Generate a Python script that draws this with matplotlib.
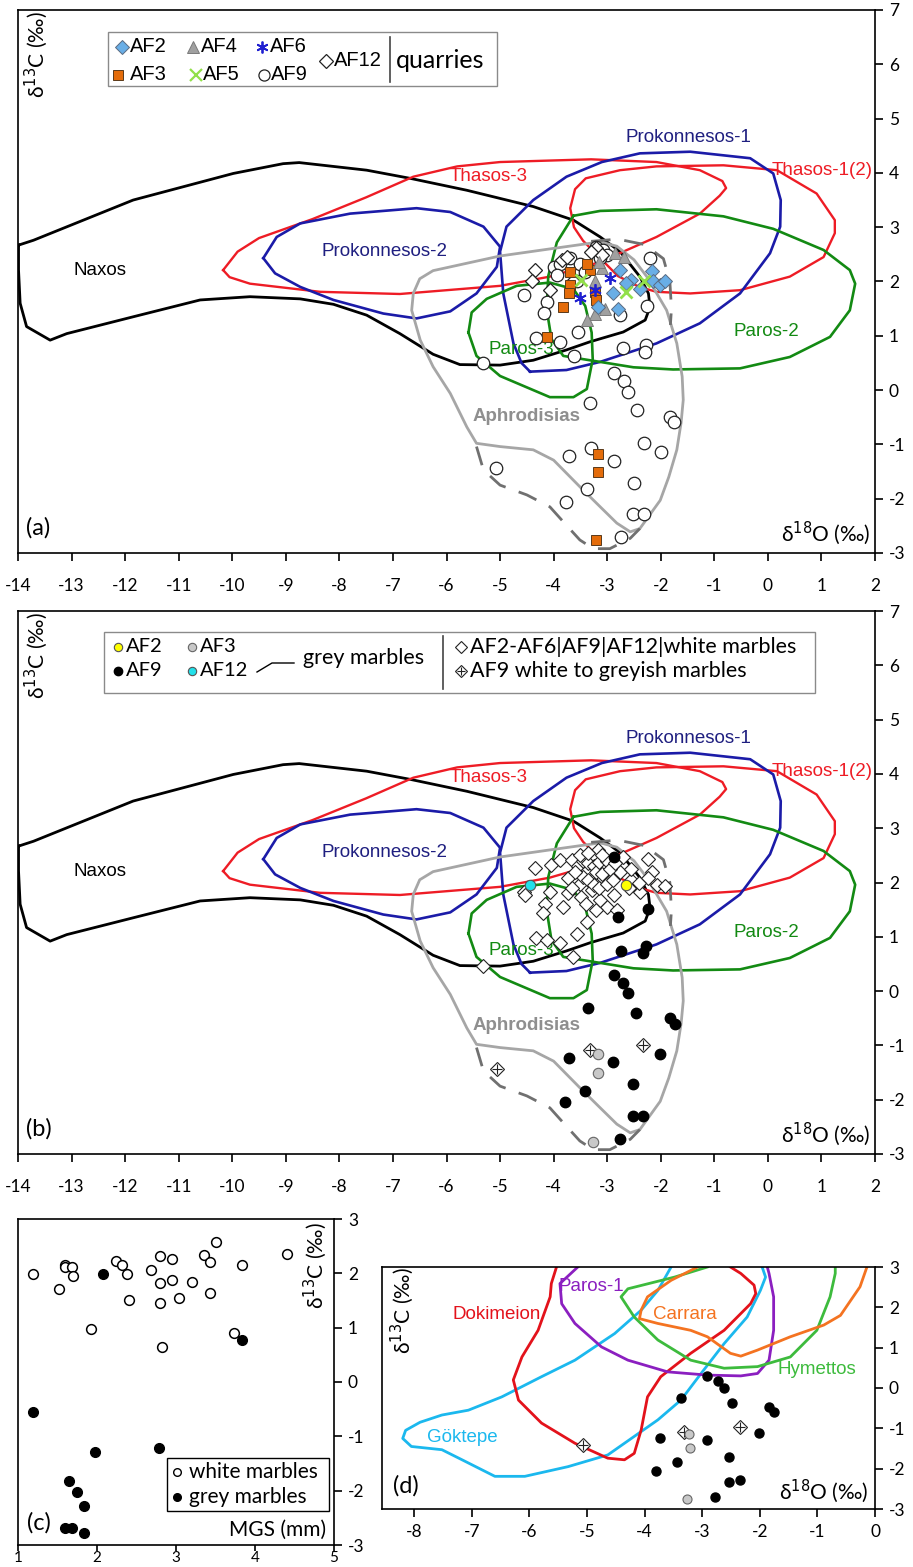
import matplotlib
matplotlib.use("Agg")
import matplotlib.pyplot as plt
from matplotlib.lines import Line2D
from matplotlib.patches import Rectangle

plt.rcParams['font.family'] = ['Lato', 'DejaVu Sans']
plt.rcParams['axes.unicode_minus'] = False
plt.rcParams['mathtext.fontset'] = 'dejavusans'

W, H = 913, 1567

# ---------------- quarry fields (d18O, d13C) ----------------
naxos = [(-13.99, 2.67), (-13.71, 2.76), (-11.85, 3.50), (-9.98, 3.99), (-9.05, 4.17),
         (-8.75, 4.19), (-7.49, 4.05), (-6.68, 3.90), (-5.62, 3.68), (-4.38, 3.38),
         (-3.63, 3.13), (-3.13, 2.82), (-2.76, 2.55), (-2.39, 2.09), (-2.23, 1.78),
         (-2.20, 1.53), (-2.29, 1.29), (-2.70, 1.07), (-3.32, 0.89), (-3.76, 0.74),
         (-4.38, 0.55), (-5.00, 0.46), (-5.75, 0.47), (-6.25, 0.66), (-6.87, 1.04),
         (-7.49, 1.38), (-8.11, 1.58), (-8.73, 1.68), (-9.67, 1.72), (-10.60, 1.66),
         (-11.85, 1.35), (-13.09, 1.04), (-13.40, 0.92), (-13.84, 1.17), (-13.96, 1.60),
         (-13.99, 2.21)]
thasos3 = [(-10.17, 2.21), (-9.90, 2.55), (-9.50, 2.80), (-8.50, 3.15), (-7.50, 3.55),
           (-6.62, 3.93), (-5.80, 4.12), (-5.00, 4.20), (-3.30, 4.25), (-2.08, 4.20),
           (-1.27, 4.05), (-0.85, 3.85), (-0.78, 3.72), (-0.90, 3.58), (-1.27, 3.25),
           (-2.08, 2.82), (-2.70, 2.55), (-3.20, 2.34), (-4.07, 2.09), (-5.00, 1.92),
           (-6.87, 1.77), (-8.36, 1.81), (-9.67, 1.96), (-10.05, 2.08)]
thasos1 = [(-3.20, 2.50), (-3.45, 2.75), (-3.62, 3.00), (-3.69, 3.35), (-3.60, 3.70),
           (-3.40, 3.90), (-2.76, 4.05), (-2.08, 4.12), (-0.83, 4.14), (0.17, 4.05),
           (0.91, 3.62), (1.25, 3.13), (1.25, 2.89), (1.04, 2.45), (0.41, 2.09),
           (-0.52, 1.84), (-1.45, 1.78), (-2.08, 1.81), (-2.40, 1.90), (-2.80, 2.10),
           (-3.00, 2.30)]
prok1 = [(-4.44, 0.34), (-3.76, 0.37), (-3.13, 0.52), (-2.08, 0.86), (-1.27, 1.23),
         (-0.52, 1.78), (0.04, 2.52), (0.23, 3.01), (0.24, 3.50), (0.10, 3.99),
         (-0.33, 4.27), (-1.45, 4.39), (-2.39, 4.36), (-3.10, 4.20), (-3.76, 3.93),
         (-4.38, 3.50), (-4.88, 3.01), (-5.00, 2.55), (-4.94, 1.78), (-4.75, 0.86),
         (-4.60, 0.50)]
prok2 = [(-9.42, 2.43), (-9.20, 2.15), (-8.73, 1.90), (-8.11, 1.66), (-7.18, 1.41),
         (-6.56, 1.32), (-5.93, 1.45), (-5.44, 1.78), (-5.06, 2.27), (-5.00, 2.64),
         (-5.31, 3.01), (-5.93, 3.28), (-6.56, 3.35), (-7.80, 3.25), (-8.73, 3.07),
         (-9.17, 2.82)]
paros2 = [(-3.63, 3.21), (-3.13, 3.30), (-2.08, 3.33), (-0.83, 3.20), (0.10, 2.97),
          (1.04, 2.58), (1.53, 2.21), (1.63, 1.96), (1.53, 1.47), (1.16, 0.98),
          (0.41, 0.61), (-0.52, 0.40), (-1.77, 0.38), (-2.51, 0.42), (-3.45, 0.57),
          (-3.82, 0.63), (-4.04, 0.94), (-4.13, 1.49), (-4.10, 2.10), (-3.94, 2.72)]
paros3 = [(-5.59, 1.06), (-5.53, 1.43), (-5.25, 1.68), (-4.69, 1.92), (-4.07, 1.98),
          (-3.63, 1.86), (-3.41, 1.55), (-3.29, 1.06), (-3.27, 0.57), (-3.38, 0.02),
          (-3.63, -0.13), (-4.07, -0.13), (-5.00, 0.26), (-5.44, 0.63)]
aphro = [(-3.13, 2.73), (-2.82, 2.65), (-2.50, 2.40), (-2.26, 2.09), (-1.89, 1.47),
         (-1.70, 0.86), (-1.60, 0.25), (-1.58, -0.18), (-1.62, -0.60), (-1.70, -1.10),
         (-1.85, -1.60), (-2.01, -2.03), (-2.39, -2.55), (-2.57, -2.61), (-2.82, -2.45),
         (-3.13, -2.15), (-3.51, -1.78), (-4.00, -1.29), (-4.38, -1.10), (-5.00, -1.04),
         (-5.44, -0.98), (-5.62, -0.68), (-5.93, -0.06), (-6.25, 0.43), (-6.49, 0.92),
         (-6.65, 1.47), (-6.62, 1.78), (-6.50, 2.05), (-6.25, 2.20), (-5.00, 2.47),
         (-4.07, 2.60)]
aphro_dash_top = [(-3.30, 2.74), (-2.80, 2.78), (-2.30, 2.68), (-1.95, 2.42), (-1.83, 2.00),
                  (-1.80, 1.50), (-1.82, 1.20)]
aphro_dash_bot = [(-5.44, -1.04), (-5.31, -1.47), (-5.00, -1.75), (-4.50, -1.93), (-4.07, -2.15),
                  (-3.76, -2.49), (-3.51, -2.76), (-3.26, -2.92), (-2.95, -2.92), (-2.57, -2.73),
                  (-2.39, -2.55)]

# fields of panel (d), open at the top
dokimeion = [(-5.53, 3.0), (-5.62, 2.59), (-5.64, 2.26), (-5.85, 1.43), (-6.13, 0.77),
             (-6.28, 0.20), (-6.19, -0.30), (-5.79, -0.87), (-5.21, -1.37), (-4.64, -1.74),
             (-4.35, -1.78), (-4.18, -1.62), (-4.06, -1.04), (-3.95, -0.22), (-3.72, 0.28),
             (-3.20, 0.86), (-2.62, 1.43), (-2.16, 2.09), (-2.07, 2.34), (-2.10, 2.55),
             (-2.33, 2.84), (-2.51, 3.0)]
paros1 = [(-5.16, 3.0), (-5.47, 2.59), (-5.44, 2.09), (-5.21, 1.60), (-4.75, 1.02),
          (-4.29, 0.69), (-3.60, 0.40), (-2.91, 0.32), (-2.33, 0.30), (-2.04, 0.36),
          (-1.84, 0.69), (-1.76, 1.43), (-1.76, 2.26), (-1.84, 2.84), (-1.87, 3.0)]
carrara = [(-3.08, 3.0), (-3.54, 2.67), (-3.95, 2.26), (-4.06, 1.93), (-4.09, 1.72),
           (-3.77, 1.60), (-3.20, 1.43), (-2.91, 1.27), (-2.51, 0.86), (-2.33, 0.79),
           (-2.04, 0.94), (-1.47, 1.27), (-0.89, 1.56), (-0.60, 1.80), (-0.26, 2.51),
           (-0.14, 3.0)]
hymettos = [(-2.91, 3.0), (-3.48, 2.75), (-4.29, 2.46), (-4.41, 2.26), (-4.18, 1.76),
            (-3.77, 1.19), (-3.20, 0.69), (-2.62, 0.49), (-2.04, 0.53), (-1.47, 0.77),
            (-1.01, 1.43), (-0.78, 2.26), (-0.69, 2.84), (-0.69, 3.0)]
goktepe = [(-3.54, 3.0), (-3.77, 2.42), (-4.06, 1.93), (-4.52, 1.35), (-5.21, 0.69),
           (-5.79, 0.28), (-6.48, -0.22), (-7.06, -0.55), (-7.52, -0.67), (-7.90, -0.85),
           (-8.15, -1.05), (-8.20, -1.25), (-8.05, -1.45), (-7.52, -1.53), (-7.17, -1.78),
           (-6.60, -2.19), (-6.08, -2.19), (-5.33, -1.95), (-4.64, -1.66), (-4.18, -1.20),
           (-3.77, -0.79), (-3.37, -0.30), (-3.02, 0.36), (-2.62, 1.10), (-2.22, 1.76),
           (-1.99, 2.42), (-1.90, 2.75), (-1.96, 3.0)]

# ---------------- samples, panel (a) ----------------
af2_x = [-2.76, -2.56, -2.65, -2.89, -3.17, -2.80, -2.16, -2.39, -2.14, -2.01, -1.92]
af2_y = [2.21, 2.03, 1.97, 1.78, 1.53, 1.50, 2.19, 1.87, 2.00, 1.93, 2.00]
af3_x = [-3.69, -3.70, -3.72, -3.83, -4.13, -3.32, -3.38, -3.23, -3.20, -3.17, -3.17, -3.21]
af3_y = [2.18, 1.93, 1.78, 1.53, 0.97, 2.21, 2.32, 1.81, 1.66, -1.17, -1.50, -2.76]
af4_x = [-2.85, -2.69, -3.10, -3.23, -3.04, -3.23, -3.37, -3.15]
af4_y = [2.52, 2.45, 2.24, 2.00, 1.50, 1.41, 1.29, 2.35]
af5_x = [-3.48, -2.64, -2.32]
af5_y = [2.03, 1.80, 2.00]
af6_x = [-2.95, -3.51, -3.22]
af6_y = [2.06, 1.70, 1.84]
af9_x = [-2.20, -4.55, -4.13, -4.18, -2.25, -2.77, -4.32, -3.88, -3.55, -3.62, -5.31,
         -2.71, -2.27, -2.29, -2.87, -2.69, -2.61, -3.32, -2.44, -1.83, -1.75, -2.31,
         -2.00, -3.31, -3.71, -2.87, -5.08, -2.50, -3.38, -3.76, -2.51, -2.31, -2.75,
         -4.00, -3.88, -3.94, -3.69, -3.51, -3.20, -3.07, -3.01, -3.13, -3.41, -3.57]
af9_y = [2.43, 1.76, 1.63, 1.42, 1.55, 1.38, 0.96, 0.89, 1.07, 0.63, 0.49,
         0.77, 0.83, 0.71, 0.31, 0.17, -0.03, -0.23, -0.37, -0.49, -0.58, -0.97,
         -1.14, -1.07, -1.22, -1.30, -1.44, -1.72, -1.83, -2.06, -2.29, -2.28, -2.71,
         2.27, 2.33, 2.12, 2.43, 2.33, 2.64, 2.58, 2.49, 2.43, 2.18, 2.00]
af12_x = [-4.35, -4.41, -4.07, -3.85, -3.63, -3.20, -3.10, -3.30, -3.75]
af12_y = [2.21, 2.00, 1.84, 2.39, 2.00, 2.61, 2.49, 2.55, 2.45]

# ---------------- samples, panel (b) ----------------
white_x = [-4.35, -4.55, -4.53, -4.07, -4.16, -4.19, -3.83, -4.32, -4.13, -3.89, -3.56, -3.63,
           -5.31, -4.04, -3.88, -3.66, -3.17, -3.29, -3.05, -3.73, -3.51, -3.73, -3.48, -3.29,
           -3.07, -2.88, -2.76, -2.70, -2.23, -2.16, -2.23, -2.07, -1.92, -2.39, -3.01, -3.20,
           -2.82, -3.38, -3.13, -3.55, -3.45, -3.40, -3.35, -3.25, -3.20, -3.15, -3.10, -3.00,
           -3.45, -3.60, -3.35, -3.25, -3.15, -3.00, -2.95, -2.85, -2.90, -3.50, -3.35, -3.10,
           -2.55, -2.60, -3.65, -3.40, -2.55, -2.40]
white_y = [2.26, 1.83, 1.77, 1.83, 1.61, 1.44, 1.55, 0.97, 0.94, 0.89, 1.06, 0.62,
           0.46, 2.32, 2.41, 2.41, 2.60, 2.47, 2.26, 2.08, 1.98, 1.80, 1.74, 1.86,
           2.08, 1.77, 2.20, 2.47, 2.44, 2.20, 2.08, 1.95, 1.93, 1.83, 1.55, 1.49,
           1.50, 1.28, 1.68, 2.30, 2.40, 2.20, 2.35, 2.30, 2.20, 2.38, 2.15, 2.40,
           2.10, 2.20, 2.05, 1.95, 1.90, 1.98, 2.25, 2.35, 2.05, 2.50, 2.55, 2.50,
           2.05, 1.90, 1.90, 1.60, 2.25, 2.00]
greyish_x = [-5.06, -3.32, -2.34]
greyish_y = [-1.44, -1.09, -0.99]
g9_x = [-2.87, -2.23, -2.79, -2.75, -2.34, -2.27, -2.88, -2.71, -2.61, -3.35, -2.46,
        -1.83, -1.73, -2.01, -3.72, -2.89, -2.52, -3.41, -3.79, -2.52, -2.34, -2.76]
g9_y = [2.47, 1.52, 1.37, 0.74, 0.71, 0.83, 0.29, 0.15, -0.03, -0.31, -0.41,
        -0.50, -0.61, -1.15, -1.24, -1.31, -1.71, -1.84, -2.05, -2.30, -2.30, -2.73]
g3_x = [-3.17, -3.17, -3.26]
g3_y = [-1.16, -1.50, -2.78]
g2_x, g2_y = [-2.64], [1.95]
g12_x, g12_y = [-4.45], [1.95]

# ---------------- panel (c): MGS vs d13C ----------------
mgs_white = [1.19, 1.52, 1.59, 1.60, 1.68, 1.70, 1.92, 2.24, 2.32, 2.38, 2.40, 2.68, 2.80,
             2.80, 2.80, 2.82, 2.95, 2.95, 3.04, 3.20, 3.36, 3.43, 3.50, 3.43, 3.74, 3.84, 4.40]
c13_white = [1.99, 1.72, 2.16, 2.12, 2.12, 1.96, 0.97, 2.22, 2.15, 1.99, 1.51, 2.07, 2.32,
             1.82, 1.46, 0.64, 2.26, 1.88, 1.54, 1.84, 2.33, 2.21, 2.58, 1.63, 0.91, 2.16, 2.36]
mgs_grey = [2.08, 3.83, 1.19, 1.98, 2.78, 1.64, 1.75, 1.84, 1.60, 1.68, 1.84]
c13_grey = [1.99, 0.78, -0.56, -1.29, -1.21, -1.82, -2.03, -2.29, -2.69, -2.68, -2.77]

# ---------------- panel (d) ----------------
d_black_x = [-2.91, -2.72, -2.63, -2.48, -3.37, -1.84, -1.76, -2.02, -3.74, -2.91,
             -2.53, -3.43, -3.80, -2.53, -2.35, -2.78]
d_black_y = [0.30, 0.18, -0.01, -0.38, -0.26, -0.46, -0.59, -1.12, -1.23, -1.30,
             -1.72, -1.84, -2.05, -2.32, -2.29, -2.71]
d_grey_x = [-3.23, -3.21, -3.27]
d_grey_y = [-1.14, -1.48, -2.75]
d_cross_x = [-5.07, -3.31, -2.35]
d_cross_y = [-1.41, -1.08, -0.97]

LAB = 'Liberation Sans'
RED, BLUE, GREEN, GREY = '#ee1c25', '#1b1ba8', '#138a13', '#a6a6a6'


def fx(px):
    return px / W


def fy(py):
    return 1 - py / H


def ax_rect(x0, y0, x1, y1):
    return [fx(x0), fy(y1), fx(x1) - fx(x0), fy(y0) - fy(y1)]


def field(ax, pts, color, lw=1.8, closed=True, **kw):
    xs = [p[0] for p in pts]
    ys = [p[1] for p in pts]
    if closed:
        xs.append(xs[0])
        ys.append(ys[0])
    ax.plot(xs, ys, color=color, lw=lw, solid_joinstyle='round', zorder=1, **kw)


def draw_fields(ax, aphro_lab_y):
    field(ax, naxos, 'black', 2.0)
    field(ax, thasos3, RED, 1.7)
    field(ax, thasos1, RED, 1.7)
    field(ax, prok1, BLUE, 1.9)
    field(ax, prok2, BLUE, 1.9)
    field(ax, paros2, GREEN, 1.9)
    field(ax, paros3, GREEN, 1.9)
    field(ax, aphro, GREY, 2.0)
    field(ax, aphro_dash_top, '#707070', 2.0, closed=False, dashes=(7, 5))
    field(ax, aphro_dash_bot, '#707070', 2.0, closed=False, dashes=(7, 5))
    kw = dict(fontsize=13.5, family=LAB, ha='center', va='center', zorder=2)
    ax.text(-12.47, 2.21, 'Naxos', color='black', **kw)
    ax.text(-7.15, 2.55, 'Prokonnesos-2', color='#1f1f80', **kw)
    ax.text(-5.22, 3.93, 'Thasos-3', color=RED, **kw)
    ax.text(-1.49, 4.65, 'Prokonnesos-1', color='#1f1f80', **kw)
    ax.text(-0.02, 1.07, 'Paros-2', color=GREEN, **kw)
    ax.text(-4.60, 0.74, 'Paros-3', color=GREEN, **kw)
    ax.text(-4.50, aphro_lab_y, 'Aphrodisias', color='#8f8f8f', fontweight='bold', **kw)
    kw['ha'] = 'right'
    ax.text(1.95, 4.05, 'Thasos-1(2)', color=RED, **kw)


def style(ax, xlim, ylim, xticks, yticks, xpad=12):
    ax.set_xlim(*xlim)
    ax.set_ylim(*ylim)
    ax.set_xticks(xticks)
    ax.set_yticks(yticks)
    ax.yaxis.tick_right()
    ax.tick_params(direction='out', length=6, width=1.2, labelsize=12.5, pad=4)
    ax.tick_params(axis='x', pad=xpad)
    for s in ax.spines.values():
        s.set_linewidth(1.2)


def ftext(px, py, s, **kw):
    fig.text(fx(px), fy(py), s, **kw)


def fmark(px, py, **kw):
    fig.add_artist(Line2D([fx(px)], [fy(py)], linestyle='none', **kw))


def fline(pxs, pys, **kw):
    fig.add_artist(Line2D([fx(p) for p in pxs], [fy(p) for p in pys], **kw))


fig = plt.figure(figsize=(W / 100, H / 100), dpi=100)

d13 = 'δ$^{13}$C (‰)'
d18 = 'δ$^{18}$O (‰)'

# ---------------- panel (a) ----------------
ax = fig.add_axes(ax_rect(18, 10, 875, 553))
style(ax, (-14, 2), (-3, 7), range(-14, 3), range(-3, 8))
draw_fields(ax, -0.49)
ax.plot(af9_x, af9_y, 'o', ms=9, mfc='white', mec='#222222', mew=0.9, zorder=3)
ax.plot(af12_x, af12_y, 'D', ms=7.5, mfc='white', mec='#222222', mew=0.9, zorder=3)
ax.plot(af3_x, af3_y, 's', ms=7, mfc='#e46c0a', mec='#5a3a1a', mew=0.7, zorder=4)
ax.plot(af4_x, af4_y, '^', ms=8.5, mfc='#a0a0a0', mec='#7a7a7a', mew=0.7, zorder=4)
ax.plot(af2_x, af2_y, 'D', ms=7.5, mfc='#69aee6', mec='#5a6a80', mew=0.7, zorder=5)
ax.plot(af5_x, af5_y, 'x', ms=9, mec='#92e04a', mew=2, zorder=5)
ax.plot(af6_x, af6_y, marker=(6, 2, 0), ls='none', ms=9, mec='#2020d0', mew=1.3, zorder=5)

# legend (a)
fig.add_artist(Rectangle((fx(108), fy(86)), fx(497) - fx(108), fy(32) - fy(86),
                         transform=fig.transFigure, fill=False, ec='#8a8a8a', lw=1))
lk = dict(fontsize=14.5, family=LAB, va='center')
fmark(122, 47, marker='D', ms=7.5, mfc='#69aee6', mec='#5a6a80', mew=0.7)
ftext(130, 47, 'AF2', **lk)
fmark(193, 47, marker='^', ms=8, mfc='#a0a0a0', mec='#7a7a7a', mew=0.7)
ftext(201, 47, 'AF4', **lk)
fmark(262, 47, marker=(6, 2, 0), ms=8.5, mec='#2020d0', mew=1.3)
ftext(270, 47, 'AF6', **lk)
fmark(118, 75, marker='s', ms=6.5, mfc='#e46c0a', mec='#5a3a1a', mew=0.7)
ftext(130, 75, 'AF3', **lk)
fmark(196, 75, marker='x', ms=8, mec='#92e04a', mew=1.6)
ftext(203, 75, 'AF5', **lk)
fmark(264, 75, marker='o', ms=8, mfc='white', mec='#222222', mew=0.9)
ftext(271, 75, 'AF9', **lk)
fmark(326, 61, marker='D', ms=7, mfc='white', mec='#222222', mew=0.9)
ftext(334, 61, 'AF12', **lk)
fline([390, 390], [37, 82], color='#444444', lw=1.2)
ftext(396, 60, 'quarries', fontsize=18, va='center')

ftext(36, 55, d13, fontsize=15, rotation=90, ha='center', va='center')
ftext(870, 533, d18, fontsize=15, ha='right', va='center')
ftext(26, 528, '(a)', fontsize=17, ha='left', va='center')

# ---------------- panel (b) ----------------
ax = fig.add_axes(ax_rect(18, 611, 875, 1154))
style(ax, (-14, 2), (-3, 7), range(-14, 3), range(-3, 8))
draw_fields(ax, -0.63)
ax.plot(white_x, white_y, 'D', ms=7.5, mfc='white', mec='#222222', mew=0.8, zorder=3)
ax.plot(greyish_x, greyish_y, 'D', ms=7.5, mfc='white', mec='#222222', mew=0.8, zorder=3)
ax.plot(greyish_x, greyish_y, '+', ms=7.5, mec='#222222', mew=0.8, zorder=3)
ax.plot(g9_x, g9_y, 'o', ms=7.5, mfc='black', mec='black', zorder=4)
ax.plot(g3_x, g3_y, 'o', ms=7.5, mfc='#c8c8c8', mec='#666666', mew=0.8, zorder=4)
ax.plot(g2_x, g2_y, 'o', ms=7.5, mfc='#ffff00', mec='#555555', mew=0.8, zorder=4)
ax.plot(g12_x, g12_y, 'o', ms=7.5, mfc='#22e0ea', mec='#555555', mew=0.8, zorder=4)

# legend (b)
fig.add_artist(Rectangle((fx(104), fy(693)), fx(815) - fx(104), fy(632) - fy(693),
                         transform=fig.transFigure, fill=False, ec='#8a8a8a', lw=1))
lb = dict(fontsize=14.5, va='center')
fmark(118, 647, marker='o', ms=6, mfc='#ffff00', mec='#555555', mew=0.8)
ftext(126, 647, 'AF2', **lb)
fmark(192, 647, marker='o', ms=6, mfc='#c8c8c8', mec='#666666', mew=0.8)
ftext(200, 647, 'AF3', **lb)
fmark(118, 671, marker='o', ms=6, mfc='black', mec='black')
ftext(126, 671, 'AF9', **lb)
fmark(192, 671, marker='o', ms=6, mfc='#22e0ea', mec='#555555', mew=0.8)
ftext(200, 671, 'AF12', **lb)
fline([257, 272, 294], [672, 663, 663], color='black', lw=1)
ftext(303, 658, 'grey marbles', fontsize=15.5, va='center')
fline([443, 443], [636, 689], color='#444444', lw=1.2)
fmark(461, 647, marker='D', ms=6, mfc='white', mec='#222222', mew=0.8)
ftext(470, 647, 'AF2-AF6|AF9|AF12|white marbles', fontsize=15.5, va='center')
fmark(461, 671, marker='D', ms=6, mfc='white', mec='#222222', mew=0.8)
fmark(461, 671, marker='+', ms=6, mec='#222222', mew=0.8)
ftext(470, 671, 'AF9 white to greyish marbles', fontsize=15.5, va='center')

ftext(36, 656, d13, fontsize=15, rotation=90, ha='center', va='center')
ftext(870, 1134, d18, fontsize=15, ha='right', va='center')
ftext(26, 1129, '(b)', fontsize=17, ha='left', va='center')

# ---------------- panel (c) ----------------
ax = fig.add_axes(ax_rect(18, 1219, 334, 1545))
style(ax, (1, 5), (-3, 3), range(1, 6), range(-3, 4), xpad=0)
ax.tick_params(axis='x', length=4, labelsize=11)
ax.plot(mgs_white, c13_white, 'o', ms=7, mfc='white', mec='black', mew=1.1)
ax.plot(mgs_grey, c13_grey, 'o', ms=7, mfc='black', mec='black')
fig.add_artist(Rectangle((fx(167), fy(1511)), fx(329) - fx(167), fy(1458) - fy(1511),
                         transform=fig.transFigure, fill=False, ec='black', lw=1))
fmark(177, 1472, marker='o', ms=5.5, mfc='white', mec='black', mew=1)
ftext(189, 1472, 'white marbles', fontsize=15, va='center')
fmark(177, 1497, marker='o', ms=5.5, mfc='black', mec='black')
ftext(189, 1497, 'grey marbles', fontsize=15, va='center')
ftext(315, 1266, d13, fontsize=15, rotation=90, ha='center', va='center')
ftext(326, 1530, 'MGS (mm)', fontsize=15, ha='right', va='center')
ftext(27, 1523, '(c)', fontsize=17, ha='left', va='center')

# ---------------- panel (d) ----------------
ax = fig.add_axes(ax_rect(382, 1267, 875, 1509))
style(ax, (-8.56, 0), (-3, 3), range(-8, 1), range(-3, 4), xpad=5)
field(ax, goktepe, '#1bb8ee', 2.0, closed=False)
field(ax, dokimeion, '#e3121b', 2.0, closed=False)
field(ax, paros1, '#8b1fc0', 2.0, closed=False)
field(ax, hymettos, '#3dbb3d', 2.0, closed=False)
field(ax, carrara, '#f47321', 2.0, closed=False)
kd = dict(fontsize=13.5, family=LAB, ha='center', va='center')
ax.text(-6.57, 1.81, 'Dokimeion', color='#e3121b', **kd)
ax.text(-4.92, 2.51, 'Paros-1', color='#8b1fc0', **kd)
ax.text(-3.30, 1.81, 'Carrara', color='#f47321', **kd)
ax.text(-1.01, 0.46, 'Hymettos', color='#3dbb3d', **kd)
ax.text(-7.17, -1.22, 'Göktepe', color='#1bb8ee', **kd)
ax.plot(d_cross_x, d_cross_y, 'D', ms=7, mfc='white', mec='#222222', mew=0.8, zorder=3)
ax.plot(d_cross_x, d_cross_y, '+', ms=7, mec='#222222', mew=0.8, zorder=3)
ax.plot(d_black_x, d_black_y, 'o', ms=6.5, mfc='black', mec='black', zorder=4)
ax.plot(d_grey_x, d_grey_y, 'o', ms=6.5, mfc='#c8c8c8', mec='#666666', mew=0.8, zorder=4)
ftext(402, 1311, d13, fontsize=15, rotation=90, ha='center', va='center')
ftext(868, 1491, d18, fontsize=15, ha='right', va='center')
ftext(393, 1486, '(d)', fontsize=17, ha='left', va='center')

fig.savefig('out.png', dpi=100)
